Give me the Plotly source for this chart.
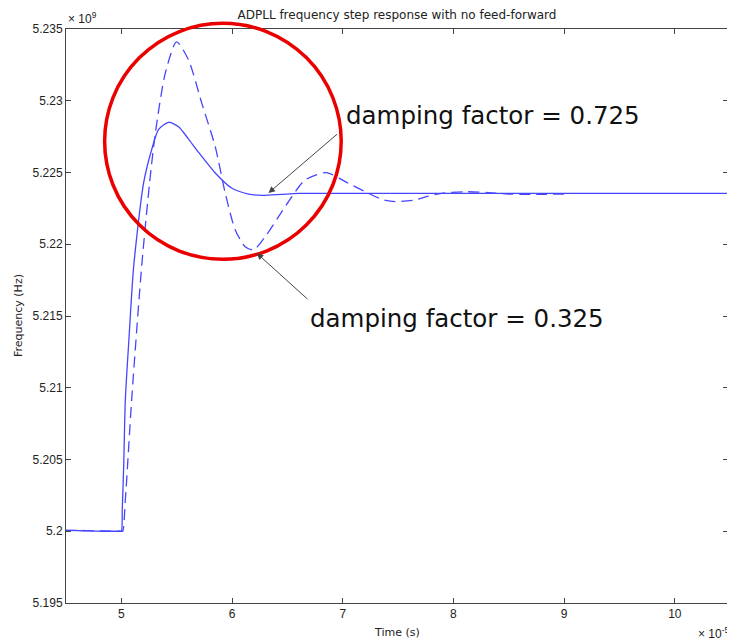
import plotly.graph_objects as go

# Data (time in units of 1e-5 s, frequency in units of 1e9 Hz)
t_solid = [4.5, 4.6, 4.7, 4.85, 4.98, 5.0, 5.008, 5.021, 5.036, 5.072, 5.111, 5.201, 5.273, 5.337, 5.427,
           5.517, 5.60, 5.698, 5.848, 5.996, 6.149, 6.27, 6.45, 6.60, 7.0, 8.0, 9.0, 10.0, 10.5]
f_solid = [5.20008, 5.20005, 5.20002, 5.2000, 5.2000, 5.2000, 5.2015, 5.2045, 5.20915, 5.21382, 5.21842, 5.22427,
           5.22657, 5.2280, 5.2285, 5.22819, 5.2274, 5.2264, 5.22497, 5.22392, 5.2235, 5.22341, 5.22348, 5.22354,
           5.22355, 5.22355, 5.22355, 5.22355, 5.22355]

t_dash = [4.5, 4.6, 4.75, 4.9, 5.0, 5.012, 5.036, 5.093, 5.183, 5.255, 5.307, 5.397, 5.499, 5.607, 5.727,
          5.848, 5.939, 6.029, 6.119, 6.194, 6.30, 6.42, 6.54, 6.66, 6.853, 7.05, 7.232, 7.352, 7.473,
          7.653, 7.773, 7.894, 8.105, 8.315, 8.495, 8.70, 9.05]
f_dash = [5.20005, 5.20006, 5.20003, 5.20001, 5.2000, 5.2000, 5.20218, 5.20915, 5.21842, 5.22427, 5.22775,
          5.23192, 5.2341, 5.23284, 5.22982, 5.2268, 5.22355, 5.2210, 5.21983, 5.2196, 5.22053, 5.22192,
          5.22331, 5.22448, 5.22499, 5.22425, 5.22355, 5.22313, 5.22297, 5.22308, 5.22336, 5.22355,
          5.22366, 5.2236, 5.2235, 5.22348, 5.2235]

x_ticks = [5, 6, 7, 8, 9, 10]
y_ticks = [5.195, 5.2, 5.205, 5.21, 5.215, 5.22, 5.225, 5.23, 5.235]
y_tick_text = ["5.195", "5.2", "5.205", "5.21", "5.215", "5.22", "5.225", "5.23", "5.235"]

x_range = [4.5, 10.48]
y_range = [5.195, 5.235]

# highlight circle (data units) and annotation targets
circle_x = [4.849, 6.986]
circle_y = [5.21895, 5.2354]
label_hi = "damping factor = 0.725"
label_lo = "damping factor = 0.325"
arrow_hi = (6.329, 5.22357)
arrow_lo = (6.224, 5.21937)

line_color = "rgb(70,70,255)"

# page has an 8px body margin: plot area spans page x 66..728, y 29..603
W, H = 727, 634
ML, MR, MT, MB = 58, 7, 21, 39
PW, PH = W - ML - MR, H - MT - MB

fig = go.Figure()
fig.add_trace(go.Scatter(x=t_solid, y=f_solid, mode="lines",
                         line=dict(color=line_color, width=1.3, shape="spline", smoothing=0.7),
                         showlegend=False))
fig.add_trace(go.Scatter(x=t_dash, y=f_dash, mode="lines",
                         line=dict(color=line_color, width=1.3, dash="11px,6px", shape="spline", smoothing=0.7),
                         showlegend=False))

def to_paper_x(v):
    return (v - x_range[0]) / (x_range[1] - x_range[0])

def to_paper_y(v):
    return (v - y_range[0]) / (y_range[1] - y_range[0])

fig.add_shape(type="circle", xref="paper", yref="paper",
              x0=to_paper_x(circle_x[0]), x1=to_paper_x(circle_x[1]),
              y0=to_paper_y(circle_y[0]), y1=to_paper_y(circle_y[1]),
              line=dict(color="rgb(235,0,0)", width=3.5), layer="above")

axis_font = dict(family="Liberation Sans, Arial, sans-serif", size=12, color="#222")
title_font = dict(family="DejaVu Sans, sans-serif", size=11, color="#222")
label_font = dict(family="DejaVu Sans, sans-serif", size=24.5, color="#111")

fig.add_annotation(x=arrow_hi[0], y=arrow_hi[1], xref="x", yref="y", text="", showarrow=True,
                   ax=70, ay=-60, arrowhead=2, arrowsize=1.3, arrowwidth=1, arrowcolor="#444")
fig.add_annotation(x=arrow_lo[0], y=arrow_lo[1], xref="x", yref="y", text="", showarrow=True,
                   ax=52, ay=47, arrowhead=2, arrowsize=1.3, arrowwidth=1, arrowcolor="#444")

fig.add_annotation(x=(344 - 66) / PW, y=(603 - 116) / PH, xref="paper", yref="paper",
                   text=label_hi, showarrow=False, xanchor="left", yanchor="middle", font=label_font)
fig.add_annotation(x=(308 - 66) / PW, y=(603 - 318) / PH, xref="paper", yref="paper",
                   text=label_lo, showarrow=False, xanchor="left", yanchor="middle", font=label_font)

# exponent labels
fig.add_annotation(x=0, y=1, xref="paper", yref="paper", text="× 10<sup>9</sup>", showarrow=False,
                   xanchor="left", yanchor="bottom", yshift=1, font=axis_font)
fig.add_annotation(x=1.005, y=0, xref="paper", yref="paper", text="× 10<sup>-5</sup>", showarrow=False,
                   xanchor="right", yanchor="top", yshift=-20, font=axis_font)

# axis titles
fig.add_annotation(x=0.5, y=0, xref="paper", yref="paper", text="Time (s)", showarrow=False,
                   xanchor="center", yanchor="middle", yshift=-29, font=title_font)
fig.add_annotation(x=0, y=0.5, xref="paper", yref="paper", text="Frequency (Hz)", showarrow=False,
                   textangle=-90, xanchor="center", yanchor="middle", xshift=-48, font=title_font)

fig.update_layout(
    width=W, height=H,
    margin=dict(l=ML, r=MR, t=MT, b=MB, autoexpand=False),
    paper_bgcolor="white", plot_bgcolor="white",
    title=dict(text="ADPLL frequency step response with no feed-forward", xref="paper", x=0.5, xanchor="center",
               yref="container", y=1 - 7 / H, yanchor="middle",
               font=dict(family="DejaVu Sans, sans-serif", size=12, color="#222")),
    xaxis=dict(range=x_range, tickvals=x_ticks, ticks="inside", ticklen=5, tickcolor="#444",
               showline=True, linecolor="#444", linewidth=1, mirror="ticks", showgrid=False, zeroline=False,
               tickfont=axis_font, automargin=False),
    yaxis=dict(range=y_range, tickvals=y_ticks, ticktext=y_tick_text, ticks="inside", ticklen=5, tickcolor="#444",
               showline=True, linecolor="#444", linewidth=1, mirror="ticks", showgrid=False, zeroline=False,
               tickfont=axis_font, automargin=False),
)

fig.write_html("out.html")
